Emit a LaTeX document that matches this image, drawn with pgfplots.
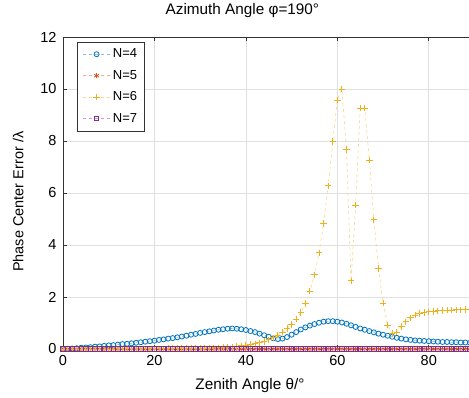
\documentclass[border=0pt]{standalone}
\usepackage{fontspec}
\setmainfont{Liberation Sans}
\usepackage{pgfplots}
\pgfplotsset{compat=1.18}
\usepackage{pgfplotstable}
\usetikzlibrary{calc}
\definecolor{c4}{rgb}{0,0.447,0.741}
\definecolor{c5}{rgb}{0.85,0.325,0.098}
\definecolor{c6}{rgb}{0.929,0.694,0.125}
\definecolor{c7}{rgb}{0.494,0.184,0.556}
\pgfplotstableread{
x n4 n5 n6 n7
0 0.00 0 0.00 0
1 0.01 0 0.00 0
2 0.02 0 0.00 0
3 0.03 0 0.00 0
4 0.05 0 0.00 0
5 0.06 0 0.00 0
6 0.07 0 0.00 0
7 0.09 0 0.00 0
8 0.10 0 0.00 0
9 0.12 0 0.00 0
10 0.14 0 0.00 0
11 0.15 0 0.00 0
12 0.17 0 0.01 0
13 0.19 0 0.01 0
14 0.20 0 0.01 0
15 0.22 0 0.01 0
16 0.24 0 0.01 0
17 0.26 0 0.01 0
18 0.28 0 0.01 0
19 0.30 0 0.01 0
20 0.32 0 0.01 0
21 0.35 0 0.01 0
22 0.37 0 0.01 0
23 0.40 0 0.02 0
24 0.42 0 0.02 0
25 0.45 0 0.02 0
26 0.48 0 0.02 0
27 0.51 0 0.02 0
28 0.55 0 0.03 0
29 0.58 0 0.03 0
30 0.62 0 0.03 0
31 0.65 0 0.04 0
32 0.68 0 0.04 0
33 0.71 0 0.05 0
34 0.74 0 0.05 0
35 0.76 0 0.06 0
36 0.78 0 0.07 0
37 0.79 0 0.08 0
38 0.78 0 0.10 0
39 0.76 0 0.12 0
40 0.73 0 0.14 0
41 0.69 0 0.17 0
42 0.65 0 0.20 0
43 0.59 0 0.24 0
44 0.53 0 0.29 0
45 0.47 0 0.35 0
46 0.41 0 0.43 0
47 0.38 0 0.53 0
48 0.40 0 0.65 0
49 0.46 0 0.79 0
50 0.55 0 0.95 0
51 0.65 0 1.15 0
52 0.75 0 1.40 0
53 0.83 0 1.75 0
54 0.90 0 2.22 0
55 0.96 0 2.85 0
56 1.01 0 3.70 0
57 1.05 0 4.82 0
58 1.07 0 6.28 0
59 1.07 0 7.98 0
60 1.05 0 9.57 0
61 1.02 0 10.00 0
62 0.97 0 7.67 0
63 0.91 0 2.62 0
64 0.85 0 5.54 0
65 0.79 0 9.27 0
66 0.74 0 9.27 0
67 0.69 0 7.27 0
68 0.64 0 4.97 0
69 0.59 0 3.10 0
70 0.55 0 1.77 0
71 0.51 0 0.92 0
72 0.47 0 0.60 0
73 0.43 0 0.65 0
74 0.40 0 0.86 0
75 0.37 0 1.05 0
76 0.35 0 1.20 0
77 0.33 0 1.30 0
78 0.32 0 1.36 0
79 0.31 0 1.40 0
80 0.30 0 1.43 0
81 0.29 0 1.45 0
82 0.28 0 1.47 0
83 0.27 0 1.48 0
84 0.27 0 1.49 0
85 0.26 0 1.50 0
86 0.26 0 1.51 0
87 0.25 0 1.51 0
88 0.25 0 1.52 0
89 0.24 0 1.52 0
90 0.24 0 1.52 0
}\data
\begin{document}
\begin{tikzpicture}
\begin{axis}[name=ax,
  scale only axis, width=411.5pt, height=312pt,
  xmin=0, xmax=90, ymin=0, ymax=12,
  xtick={0,20,40,60,80}, ytick={0,2,4,6,8,10,12},
  grid=major, grid style={black!12, line width=0.7pt},
  axis line style={black!80, line width=0.7pt},
  tick style={black!80, line width=0.7pt},
  tick align=inside, major tick length=4pt,
  /pgf/number format/assume math mode=true,
  ticklabel style={font=\fontsize{14.5}{16}\selectfont},
  xticklabel style={yshift=-3pt},
  yticklabel style={xshift=-3pt},
  title={Azimuth Angle φ=190°},
  title style={font=\fontsize{15.3}{17}\selectfont, at={(axis description cs:0.436,1.067)}, anchor=center},
  xlabel={Zenith Angle θ/°},
  xlabel style={font=\fontsize{15.3}{17}\selectfont, at={(axis description cs:0.4544,-0.1186)}, anchor=center},
  ylabel={Phase Center Error /λ},
  ylabel style={font=\fontsize{14.5}{17}\selectfont, at={(axis description cs:-0.1086,0.4721)}, anchor=center},
  clip mode=individual,
  legend style={at={(axis description cs:0.034,0.985)}, anchor=north west,
    font=\fontsize{13}{15}\selectfont, draw=black!80, line width=0.6pt,
    row sep=7pt, inner xsep=5pt, inner ysep=5pt},
  legend cell align=left,
  legend image code/.code={\draw[mark repeat=2,mark phase=2] plot coordinates {(0pt,0pt) (14pt,0pt) (28pt,0pt)};},
]
\addplot[c4!45, dashed, line width=0.6pt, mark=o, mark size=2.5pt, mark options={solid, draw=c4, line width=0.8pt}] table[x=x, y=n4] {\data};
\addlegendentry{N=4}
\addplot[c5!45, dashed, line width=0.6pt, mark=asterisk, mark size=2.6pt, mark options={solid, draw=c5, line width=0.8pt}] table[x=x, y=n5] {\data};
\addlegendentry{N=5}
\addplot[c6!50, dashed, line width=0.6pt, mark=+, mark size=3.2pt, mark options={solid, draw=c6, line width=0.9pt}] table[x=x, y=n6] {\data};
\addlegendentry{N=6}
\addplot[c7!45, dashed, line width=0.6pt, mark=square, mark size=2.2pt, mark options={solid, draw=c7, line width=0.8pt}] table[x=x, y=n7] {\data};
\addlegendentry{N=7}
\end{axis}
\pgfresetboundingbox
\useasboundingbox ($(ax.south west)+(-63pt,-48pt)$) rectangle ($(ax.north west)+(406pt,37pt)$);
\end{tikzpicture}
\end{document}
